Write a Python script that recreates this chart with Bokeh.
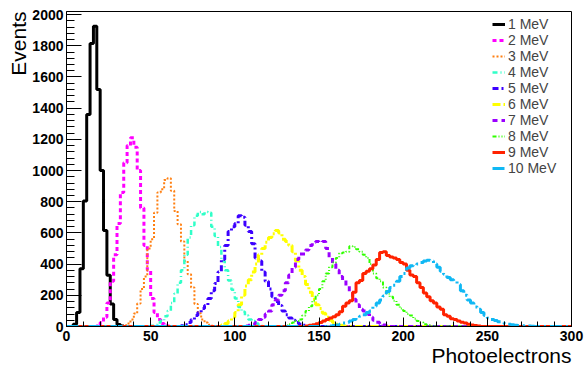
import numpy as np
from bokeh.plotting import figure
from bokeh.models import FixedTicker, Legend, LegendItem, Range1d, Title
from bokeh.embed import file_html
from bokeh.resources import INLINE

# ---- data (histograms, 2 photoelectron bins) ----
bin_width = 2
x_lo, x_hi = 0, 300

labels = ["1 MeV", "2 MeV", "3 MeV", "4 MeV", "5 MeV",
          "6 MeV", "7 MeV", "8 MeV", "9 MeV", "10 MeV"]

# left edge of first non-empty bin for each energy
first_edge = [4, 18, 34, 50, 68, 90, 106, 128, 142, 156]

counts_1mev = [15, 90, 370, 805, 1360, 1815, 1925, 1520, 1000, 615, 328, 145, 45, 13, 3]
counts_2mev = [5, 25, 60, 150, 290, 460, 660, 860, 1050, 1160, 1210, 1150, 1000, 760,
               520, 360, 180, 90, 45, 20, 8, 3]
counts_3mev = [8, 19, 45, 83, 147, 240, 320, 500, 560, 730, 860, 880, 940, 950, 870,
               740, 655, 545, 420, 335, 250, 145, 85, 45, 25, 12, 5]
counts_4mev = [5, 12, 25, 40, 65, 100, 150, 210, 280, 360, 460, 570, 650, 710, 735,
               720, 735, 730, 640, 580, 510, 420, 360, 295, 235, 180, 125, 95, 70,
               45, 35, 20, 10, 5]
counts_5mev = [5, 12, 25, 45, 70, 90, 115, 135, 180, 230, 275, 350, 430, 520, 610,
               640, 660, 710, 700, 650, 610, 530, 440, 420, 350, 290, 240, 190, 160,
               135, 100, 75, 55, 40, 25, 15, 8, 4]
counts_6mev = [5, 10, 20, 35, 60, 90, 140, 200, 260, 300, 350, 400, 460, 500, 540,
               570, 595, 615, 600, 560, 545, 520, 480, 420, 360, 320, 270, 220, 175,
               140, 115, 85, 60, 40, 25, 15, 8, 4]
counts_7mev = [4, 8, 15, 25, 45, 60, 80, 100, 140, 170, 200, 230, 280, 330, 380, 430,
               465, 465, 490, 520, 540, 545, 540, 545, 500, 440, 400, 360, 320, 295,
               260, 220, 175, 140, 110, 100, 80, 60, 40, 28, 18, 10, 5]
counts_8mev = [4, 8, 15, 25, 35, 45, 70, 100, 130, 165, 200, 240, 290, 340, 380, 410,
               440, 470, 475, 480, 515, 510, 495, 480, 460, 440, 400, 340, 310, 290,
               250, 210, 190, 165, 140, 115, 100, 80, 70, 50, 35, 25, 15, 8, 4]
counts_9mev = [4, 8, 12, 18, 25, 35, 45, 55, 62, 75, 95, 130, 150, 165, 220, 280, 295,
               340, 355, 370, 395, 430, 475, 480, 455, 445, 440, 430, 410, 400, 360,
               330, 320, 280, 250, 215, 190, 165, 150, 125, 110, 75, 65, 50, 45, 35,
               28, 22, 15, 10, 6, 3]
counts_10mev = [3, 6, 10, 15, 22, 28, 35, 45, 55, 65, 75, 90, 100, 130, 150, 170, 195,
                225, 250, 265, 290, 320, 340, 375, 390, 395, 400, 410, 420, 425, 420,
                400, 380, 355, 335, 315, 300, 290, 270, 230, 200, 170, 150, 125, 110,
                90, 70, 55, 45, 38, 30, 25, 18, 15, 12, 8, 6, 5, 4, 3, 2]

all_counts = [counts_1mev, counts_2mev, counts_3mev, counts_4mev, counts_5mev,
              counts_6mev, counts_7mev, counts_8mev, counts_9mev, counts_10mev]

x_major = [0, 50, 100, 150, 200, 250, 300]
x_minor = list(range(0, 301, 10))
y_major = [0, 200, 400, 600, 800, 1000, 1200, 1400, 1600, 1800, 2000]
y_minor = list(range(0, 2001, 40))

x_title = "Photoelectrons"
y_title = "Events"

# ---- styles ----
colors = ["#000000", "#ff00ff", "#ff7f10", "#30ffc8", "#3c00ff",
          "#ffff00", "#9a00ff", "#30ff00", "#ff2200", "#10b8f4"]
dashes = ["solid", "4 3", "2 2", "5 3 1 3", "6 3 2 3",
          "8 3 2 3", "5 4", "4 2 1 2 1 2", "solid", "12 4 2 4"]
widths = [3, 3, 2, 2.5, 3, 3, 3, 2, 3, 3]

p = figure(frame_width=505, frame_height=315,
           min_border_left=66, min_border_right=17,
           min_border_top=11, min_border_bottom=39,
           x_range=Range1d(x_lo, x_hi), y_range=Range1d(0, 2020),
           output_backend="svg", toolbar_location=None)

edges = np.arange(x_lo, x_hi + bin_width, bin_width)
nbins = len(edges) - 1
items = []
for lab, start, cnt, c, d, w in zip(labels, first_edge, all_counts, colors, dashes, widths):
    full = np.zeros(nbins)
    i0 = start // bin_width
    full[i0:i0 + len(cnt)] = cnt
    yv = np.append(full, full[-1])
    r = p.step(edges, yv, mode="after", line_color=c, line_width=w, line_dash=d)
    items.append(LegendItem(label=lab, renderers=[r]))

legend = Legend(items=items, location=(421, 145), glyph_width=13, glyph_height=16,
                label_height=16, spacing=0, padding=5, label_standoff=3, margin=0,
                label_text_font_size="14px", label_text_font="Liberation Sans",
                border_line_alpha=0, background_fill_alpha=0)
p.add_layout(legend)

p.grid.visible = False
p.outline_line_color = "black"
p.outline_line_width = 1
p.background_fill_color = "white"
p.border_fill_color = "white"

for ax in (p.xaxis[0], p.yaxis[0]):
    ax.major_label_text_font = "Liberation Sans"
    ax.major_label_text_font_style = "bold"
    ax.major_label_text_font_size = "14px"
    ax.major_label_text_color = "black"
    ax.axis_line_color = "black"
    ax.major_tick_line_color = "black"
    ax.minor_tick_line_color = "black"
    ax.major_tick_out = 0
    ax.minor_tick_out = 0

p.xaxis.ticker = FixedTicker(ticks=x_major, minor_ticks=x_minor)
p.yaxis.ticker = FixedTicker(ticks=y_major, minor_ticks=y_minor)
p.xaxis.major_tick_in = 9
p.xaxis.minor_tick_in = 5
p.yaxis.major_tick_in = 15
p.yaxis.minor_tick_in = 8
p.xaxis.major_label_standoff = 4
p.yaxis.major_label_standoff = 3

# axis titles, right-/top-aligned at the end of each axis as in the original
p.add_layout(Title(text=x_title, align="right", standoff=-4, offset=0,
                   text_font="Liberation Sans", text_font_style="normal",
                   text_font_size="21px", text_color="black"), "below")
p.add_layout(Title(text=y_title, align="right", standoff=0, offset=0,
                   text_font="Liberation Sans", text_font_style="normal",
                   text_font_size="21px", text_color="black"), "left")

open("out.html", "w").write(file_html(p, INLINE))
